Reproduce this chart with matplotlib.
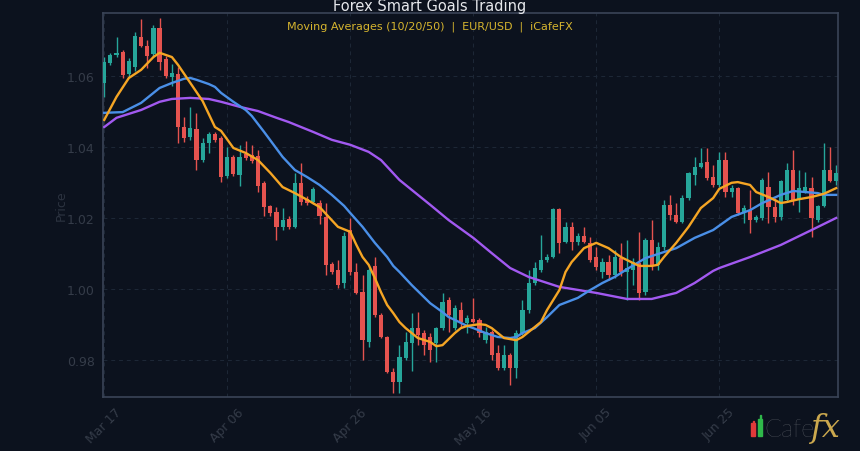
import matplotlib
matplotlib.use("Agg")
import matplotlib.pyplot as plt
import matplotlib.dates as mdates
from matplotlib.patches import Rectangle
import numpy as np
import pandas as pd

# EUR/USD daily candles, Mar 17 -> Jul 14
opens = [1.0580, 1.0637, 1.0659, 1.0668, 1.0606, 1.0625, 1.0710, 1.0684, 1.0662, 1.0735,
         1.0648, 1.0597, 1.0606, 1.0456, 1.0428, 1.0451, 1.0363, 1.0411, 1.0437, 1.0425,
         1.0318, 1.0372, 1.0321, 1.0380, 1.0377, 1.0375, 1.0299, 1.0234, 1.0217, 1.0175,
         1.0197, 1.0175, 1.0299, 1.0253, 1.0245, 1.0242, 1.0203, 1.0070, 1.0053, 1.0017,
         1.0166, 1.0048, 0.9991, 0.9851, 1.0065, 0.9927, 0.9865, 0.9766, 0.9738, 0.9806,
         0.9848, 0.9890, 0.9876, 0.9865, 0.9848, 0.9890, 0.9969, 0.9890, 0.9941, 0.9904,
         0.9915, 0.9913, 0.9856, 0.9879, 0.9820, 0.9777, 0.9814, 0.9777, 0.9876, 0.9941,
         1.0017, 1.0053, 1.0082, 1.0090, 1.0225, 1.0132, 1.0175, 1.0132, 1.0149, 1.0130,
         1.0090, 1.0048, 1.0076, 1.0039, 1.0087, 1.0048, 1.0053, 1.0073, 0.9991, 1.0138,
         1.0068, 1.0118, 1.0237, 1.0208, 1.0189, 1.0256, 1.0321, 1.0344, 1.0358, 1.0315,
         1.0293, 1.0363, 1.0273, 1.0284, 1.0214, 1.0222, 1.0194, 1.0200, 1.0287, 1.0231,
         1.0203, 1.0251, 1.0335, 1.0251, 1.0273, 1.0284, 1.0194, 1.0234, 1.0335, 1.0304]
highs = [1.0653, 1.0665, 1.0710, 1.0673, 1.0651, 1.0724, 1.0760, 1.0701, 1.0744, 1.0763,
         1.0656, 1.0634, 1.0625, 1.0484, 1.0513, 1.0496, 1.0425, 1.0442, 1.0442, 1.0431,
         1.0400, 1.0377, 1.0406, 1.0417, 1.0406, 1.0391, 1.0304, 1.0237, 1.0231, 1.0228,
         1.0206, 1.0327, 1.0355, 1.0262, 1.0287, 1.0251, 1.0242, 1.0076, 1.0082, 1.0161,
         1.0200, 1.0073, 1.0039, 1.0059, 1.0090, 0.9932, 0.9867, 0.9777, 0.9842, 0.9879,
         0.9932, 0.9935, 0.9884, 0.9876, 0.9893, 0.9989, 0.9977, 0.9955, 0.9963, 0.9927,
         0.9975, 0.9918, 0.9893, 0.9884, 0.9842, 0.9842, 0.9820, 0.9884, 0.9969, 1.0053,
         1.0076, 1.0152, 1.0099, 1.0228, 1.0228, 1.0189, 1.0189, 1.0158, 1.0175, 1.0146,
         1.0118, 1.0087, 1.0096, 1.0110, 1.0130, 1.0138, 1.0087, 1.0161, 1.0144, 1.0194,
         1.0132, 1.0251, 1.0265, 1.0242, 1.0265, 1.0329, 1.0372, 1.0397, 1.0397, 1.0349,
         1.0386, 1.0386, 1.0293, 1.0287, 1.0237, 1.0279, 1.0208, 1.0313, 1.0329, 1.0256,
         1.0307, 1.0355, 1.0391, 1.0335, 1.0329, 1.0315, 1.0237, 1.0411, 1.0400, 1.0349]
lows = [1.0541, 1.0631, 1.0653, 1.0594, 1.0597, 1.0614, 1.0682, 1.0622, 1.0653, 1.0617,
        1.0594, 1.0572, 1.0411, 1.0414, 1.0420, 1.0335, 1.0358, 1.0383, 1.0414, 1.0301,
        1.0313, 1.0318, 1.0290, 1.0363, 1.0355, 1.0273, 1.0206, 1.0206, 1.0138, 1.0166,
        1.0169, 1.0172, 1.0237, 1.0237, 1.0239, 1.0183, 1.0039, 1.0042, 1.0003, 1.0003,
        1.0039, 0.9986, 0.9800, 0.9837, 0.9921, 0.9862, 0.9763, 0.9707, 0.9707, 0.9800,
        0.9769, 0.9842, 0.9814, 0.9794, 0.9794, 0.9884, 0.9879, 0.9884, 0.9893, 0.9876,
        0.9904, 0.9865, 0.9848, 0.9800, 0.9772, 0.9772, 0.9729, 0.9749, 0.9870, 0.9932,
        1.0011, 1.0048, 1.0076, 1.0087, 1.0101, 1.0130, 1.0110, 1.0124, 1.0130, 1.0076,
        1.0053, 1.0031, 1.0025, 1.0031, 1.0037, 0.9969, 1.0011, 0.9969, 0.9983, 1.0053,
        1.0053, 1.0110, 1.0194, 1.0186, 1.0186, 1.0251, 1.0293, 1.0341, 1.0307, 1.0287,
        1.0287, 1.0259, 1.0259, 1.0208, 1.0186, 1.0158, 1.0189, 1.0194, 1.0186, 1.0189,
        1.0194, 1.0245, 1.0237, 1.0217, 1.0270, 1.0146, 1.0189, 1.0231, 1.0301, 1.0293]
closes = [1.0639, 1.0659, 1.0665, 1.0603, 1.0642, 1.0713, 1.0684, 1.0656, 1.0735, 1.0639,
          1.0600, 1.0608, 1.0456, 1.0425, 1.0453, 1.0363, 1.0411, 1.0437, 1.0420, 1.0315,
          1.0372, 1.0324, 1.0372, 1.0369, 1.0360, 1.0290, 1.0231, 1.0214, 1.0175, 1.0194,
          1.0175, 1.0299, 1.0245, 1.0242, 1.0282, 1.0206, 1.0068, 1.0048, 1.0011, 1.0149,
          1.0048, 0.9989, 0.9856, 1.0053, 0.9927, 0.9865, 0.9766, 0.9738, 0.9808, 0.9851,
          0.9890, 0.9870, 0.9842, 0.9828, 0.9890, 0.9963, 0.9927, 0.9946, 0.9907, 0.9918,
          0.9907, 0.9876, 0.9879, 0.9814, 0.9777, 0.9814, 0.9777, 0.9876, 0.9941, 1.0017,
          1.0059, 1.0082, 1.0090, 1.0225, 1.0130, 1.0175, 1.0132, 1.0149, 1.0132, 1.0082,
          1.0062, 1.0076, 1.0039, 1.0090, 1.0048, 1.0059, 1.0076, 0.9989, 1.0138, 1.0068,
          1.0118, 1.0237, 1.0208, 1.0189, 1.0256, 1.0327, 1.0344, 1.0355, 1.0313, 1.0293,
          1.0363, 1.0273, 1.0284, 1.0214, 1.0228, 1.0194, 1.0203, 1.0307, 1.0231, 1.0203,
          1.0304, 1.0335, 1.0251, 1.0284, 1.0287, 1.0200, 1.0234, 1.0335, 1.0304, 1.0327]

# moving averages, sampled from the chart (day index, value)
ma10_idx = [0, 2, 4, 6, 8, 9, 10, 11, 12, 14, 16, 18, 19, 21, 23, 25, 27, 29, 31, 33, 35, 38,
            40, 41, 42, 43, 44, 45, 46, 47, 48, 49, 50, 51, 53, 54, 55, 56, 57, 58, 59, 61,
            62, 63, 64, 65, 67, 68, 69, 70, 71, 72, 74, 75, 76, 78, 80, 82, 84, 86, 87, 89,
            90, 91, 93, 95, 97, 99, 100, 102, 103, 105, 106, 108, 110, 111, 113, 115, 117, 119]
ma10 = [1.0476, 1.0541, 1.0594, 1.0617, 1.0653, 1.0665, 1.0659, 1.0653, 1.0631, 1.0580,
        1.0529, 1.0456, 1.0445, 1.0397, 1.0383, 1.0363, 1.0327, 1.0287, 1.0270, 1.0251,
        1.0231, 1.0175, 1.0161, 1.0124, 1.0090, 1.0068, 1.0031, 0.9991, 0.9955, 0.9932,
        0.9907, 0.9890, 0.9876, 0.9862, 0.9851, 0.9839, 0.9842, 0.9859, 0.9876, 0.9890,
        0.9896, 0.9901, 0.9899, 0.9890, 0.9876, 0.9862, 0.9856, 0.9865, 0.9879, 0.9893,
        0.9907, 0.9941, 0.9997, 1.0048, 1.0076, 1.0115, 1.0130, 1.0115, 1.0090, 1.0073,
        1.0065, 1.0065, 1.0068, 1.0090, 1.0130, 1.0175, 1.0228, 1.0256, 1.0282, 1.0299,
        1.0301, 1.0293, 1.0273, 1.0259, 1.0242, 1.0245, 1.0253, 1.0259, 1.0268, 1.0284]
ma20_idx = [0, 3, 6, 9, 11, 13, 14, 15, 17, 18, 19, 21, 23, 24, 26, 29, 31, 33, 35, 37, 39,
            40, 42, 44, 46, 47, 48, 50, 52, 53, 55, 56, 57, 59, 60, 62, 64, 66, 67, 68, 70,
            72, 74, 77, 79, 81, 83, 85, 88, 91, 93, 96, 99, 102, 105, 107, 110, 112, 114,
            116, 117, 119]
ma20 = [1.0496, 1.0498, 1.0524, 1.0566, 1.0580, 1.0592, 1.0594, 1.0589, 1.0577, 1.0569,
        1.0552, 1.0527, 1.0504, 1.0487, 1.0442, 1.0372, 1.0335, 1.0315, 1.0293, 1.0265,
        1.0234, 1.0214, 1.0175, 1.0130, 1.0090, 1.0065, 1.0048, 1.0011, 0.9977, 0.9960,
        0.9935, 0.9921, 0.9913, 0.9896, 0.9890, 0.9876, 0.9865, 0.9862, 0.9865, 0.9876,
        0.9890, 0.9921, 0.9955, 0.9975, 0.9997, 1.0017, 1.0034, 1.0056, 1.0087, 1.0104,
        1.0115, 1.0144, 1.0166, 1.0203, 1.0222, 1.0242, 1.0265, 1.0276, 1.0273, 1.0270,
        1.0265, 1.0265]
ma50_idx = [0, 2, 6, 9, 11, 14, 17, 19, 22, 25, 28, 30, 34, 37, 40, 43, 45, 48, 50, 53, 56,
            60, 63, 66, 69, 74, 80, 85, 89, 93, 96, 99, 100, 105, 110, 115, 119]
ma50 = [1.0456, 1.0482, 1.0504, 1.0527, 1.0535, 1.0538, 1.0535, 1.0527, 1.0513, 1.0501,
        1.0482, 1.0470, 1.0442, 1.0420, 1.0406, 1.0386, 1.0363, 1.0307, 1.0279, 1.0237,
        1.0194, 1.0144, 1.0101, 1.0059, 1.0034, 1.0006, 0.9989, 0.9972, 0.9972, 0.9989,
        1.0017, 1.0051, 1.0059, 1.0090, 1.0124, 1.0166, 1.0200]

yticks = [0.98, 1.00, 1.02, 1.04, 1.06]

bg = '#0c121e'
up_col = '#26a69a'
dn_col = '#e5534f'
txt_dim = '#353c49'

dates = pd.date_range('2025-03-17', periods=len(closes), freq='D')
x = mdates.date2num(dates)
o = np.array(opens)
h = np.array(highs)
l = np.array(lows)
c = np.array(closes)
up = c >= o
cols = np.where(up, up_col, dn_col)

fig = plt.figure(figsize=(8.6, 4.52), dpi=100, facecolor=bg)
ax = fig.add_axes([103 / 860, 1 - 398 / 452, 735 / 860, 384 / 452])
ax.set_facecolor(bg)

# wicks + bodies
ax.vlines(x, l, h, colors=cols, linewidth=1.0, zorder=2)
body_lo = np.minimum(o, c)
body_h = np.maximum(np.abs(c - o), 0.0003)
ax.bar(x, body_h, bottom=body_lo, width=0.68, color=cols, linewidth=0, zorder=3)

# moving averages
ax.plot(x[ma50_idx], ma50, color='#a259f0', lw=1.7, zorder=4)
ax.plot(x[ma20_idx], ma20, color='#4a8fe7', lw=1.7, zorder=5)
ax.plot(x[ma10_idx], ma10, color='#f5a524', lw=1.7, zorder=6)

ax.set_xlim(x[0] - 0.2, x[-1] + 0.3)
ax.set_ylim(0.9696, 1.0777)
ax.set_yticks(yticks)
ax.yaxis.set_major_formatter(plt.FuncFormatter(lambda v, p: f'{v:.2f}'))
ax.set_xticks(x[::20])
ax.xaxis.set_major_formatter(mdates.DateFormatter('%b %d'))
plt.setp(ax.get_xticklabels(), rotation=45, ha='center')
ax.tick_params(axis='both', length=0, colors=txt_dim, labelsize=9)
ax.tick_params(axis='y', pad=6)
ax.tick_params(axis='x', pad=6)

ax.grid(True, color='#1e2837', lw=0.7, ls=(0, (4, 4)))
ax.set_axisbelow(True)
for s in ax.spines.values():
    s.set_color('#3a4457')
    s.set_linewidth(1.2)

ax.set_ylabel('Price', color='#2c3340', fontsize=9, labelpad=-1)

fig.text(0.5, 1 - 10.5 / 452, 'Forex Smart Goals Trading', color='#e6e8ec',
         fontsize=10.5, ha='center', va='baseline')
fig.text(0.5, 1 - 29 / 452, 'Moving Averages (10/20/50)  |  EUR/USD  |  iCafeFX',
         color='#d6b52f', fontsize=8, ha='center', va='baseline')

# logo
fig.patches.append(Rectangle((751 / 860, 1 - 437 / 452), 4 / 860, 13 / 452,
                             transform=fig.transFigure, color='#e03a3a'))
fig.patches.append(Rectangle((752.5 / 860, 1 - 425 / 452), 1 / 860, 3 / 452,
                             transform=fig.transFigure, color='#e03a3a'))
fig.patches.append(Rectangle((758 / 860, 1 - 437 / 452), 4 / 860, 17 / 452,
                             transform=fig.transFigure, color='#2fb84a'))
fig.patches.append(Rectangle((759.5 / 860, 1 - 420 / 452), 1 / 860, 4 / 452,
                             transform=fig.transFigure, color='#2fb84a'))
fig.text(764 / 860, 1 - 437 / 452, 'Cafe', color='#74787e', fontsize=18,
         family='Lato', weight='light', ha='left', va='baseline')
fig.text(811 / 860, 1 - 437 / 452, 'fx', color='#cba84e', fontsize=23,
         family='DejaVu Serif', style='italic', ha='left', va='baseline')

fig.savefig('out.png', dpi=100, facecolor=bg)
